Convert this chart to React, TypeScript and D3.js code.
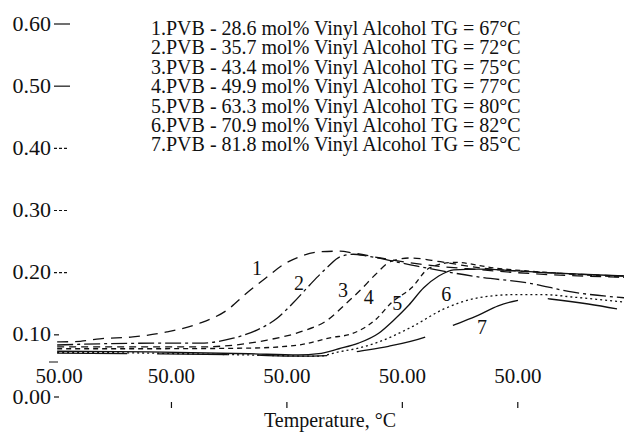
import React from "react";
import * as d3 from "d3";

const legendLines = [
  "1.PVB - 28.6 mol% Vinyl Alcohol TG = 67°C",
  "2.PVB - 35.7 mol% Vinyl Alcohol TG = 72°C",
  "3.PVB - 43.4 mol% Vinyl Alcohol TG = 75°C",
  "4.PVB - 49.9 mol% Vinyl Alcohol TG = 77°C",
  "5.PVB - 63.3 mol% Vinyl Alcohol TG = 80°C",
  "6.PVB - 70.9 mol% Vinyl Alcohol TG = 82°C",
  "7.PVB - 81.8 mol% Vinyl Alcohol TG = 85°C",
];

const yTicks = [0, 0.1, 0.2, 0.3, 0.4, 0.5, 0.6];
const yTickLabels = ["0.00", "0.10", "0.20", "0.30", "0.40", "0.50", "0.60"];
const xTicks = [20, 40, 60, 80, 100];
const xTickLabels = ["50.00", "50.00", "50.00", "50.00", "50.00"];

// curve 1
const t1 = [20.2, 24.2, 27.6, 33.3, 39.2, 44.9, 49.6, 53.1, 56.5, 59.3, 62.2, 65.7, 69.2, 71.5, 76.2, 83.1, 93.5, 103.9, 118.4];
const v1 = [0.087, 0.088, 0.092, 0.095, 0.103, 0.117, 0.138, 0.166, 0.191, 0.211, 0.224, 0.232, 0.233, 0.230, 0.222, 0.212, 0.203, 0.196, 0.191];
// curve 2
const t2 = [20.2, 27.6, 39.2, 45.0, 50.7, 54.8, 58.3, 61.1, 64.0, 67.0, 69.2, 71.5, 73.9, 81.4, 93.5, 101.6, 109.6, 118.4];
const v2 = [0.082, 0.084, 0.085, 0.085, 0.093, 0.106, 0.125, 0.150, 0.179, 0.207, 0.224, 0.228, 0.225, 0.211, 0.191, 0.182, 0.167, 0.158];
// curve 3
const t3 = [20.2, 27.6, 45.0, 56.6, 62.3, 67.0, 70.4, 72.7, 75.3, 77.9, 81.4, 86.6, 93.5, 103.9, 118.4];
const v3 = [0.079, 0.079, 0.079, 0.090, 0.103, 0.122, 0.150, 0.170, 0.195, 0.216, 0.222, 0.216, 0.206, 0.199, 0.193];
// curve 4
const t4 = [20.2, 36.1, 53.4, 62.0, 67.7, 71.2, 75.5, 78.1, 81.6, 84.7, 89.0, 95.9, 106.3, 118.4];
const v4 = [0.076, 0.076, 0.077, 0.082, 0.094, 0.100, 0.124, 0.150, 0.174, 0.206, 0.215, 0.206, 0.198, 0.191];
// curve 5
const t5 = [20.2, 36.1, 53.4, 62.0, 65.5, 69.0, 72.4, 75.9, 78.5, 81.1, 83.7, 86.3, 88.9, 93.2, 103.6, 118.4];
const v5 = [0.072, 0.071, 0.068, 0.066, 0.068, 0.076, 0.085, 0.101, 0.122, 0.146, 0.174, 0.193, 0.203, 0.204, 0.199, 0.193];
// curve 6
const t6 = [20.2, 36.1, 53.4, 65.5, 69.0, 72.4, 75.9, 81.6, 87.2, 93.2, 99.3, 104.5, 109.7, 118.4];
const v6 = [0.070, 0.069, 0.066, 0.064, 0.071, 0.077, 0.087, 0.111, 0.140, 0.158, 0.163, 0.163, 0.159, 0.151];
// curve 7
const t7 = [20.2, 36.1, 53.4, 62.0, 68.9, 71.9, 77.6, 84.0, 88.9, 93.2, 96.6, 100.1, 103.6, 105.6, 112.2, 118.4];
const v7 = [0.069, 0.068, 0.066, 0.064, 0.066, 0.071, 0.080, 0.095, 0.114, 0.130, 0.145, 0.154, 0.158, 0.156, 0.148, 0.138];

const curveT = [t1, t2, t3, t4, t5, t6, t7];
const curveV = [v1, v2, v3, v4, v5, v6, v7];
const curveDash = ["11,7", "16,4,3,4", "7,5", "5,4", "none", "2,3", "70,30"];

const labelNames = ["1", "2", "3", "4", "5", "6", "7"];
const labelT = [54.8, 62.1, 69.7, 74.2, 79.1, 87.6, 93.8];
const labelV = [0.206, 0.182, 0.170, 0.159, 0.150, 0.164, 0.111];

const W = 624;
const H = 432;
const FONT = '"Liberation Serif", Tinos, "Times New Roman", Times, "DejaVu Serif", serif';

export default function App() {
  const x = d3.scaleLinear().domain([20, 118.4]).range([56, 624]);
  const y = d3.scaleLinear().domain([0, 0.6]).range([396, 23]);
  const line = d3
    .line<[number, number]>()
    .x((d) => x(d[0]))
    .y((d) => y(d[1]))
    .curve(d3.curveMonotoneX);

  const ts = { fontFamily: FONT };

  return (
    <svg
      width={W}
      height={H}
      style={{ position: "fixed", left: 0, top: 0, background: "#fff", fontFamily: FONT }}
    >
      <rect width={W} height={H} fill="#fff" />
      {/* legend */}
      {legendLines.map((s, i) => (
        <text key={s} x={151} y={35 + i * 19.4} fontSize={20} fill="#111" style={ts}>
          {s}
        </text>
      ))}
      {/* y axis */}
      {yTicks.map((t, i) => {
        const yy = y(t);
        const style = t >= 0.5 ? "none" : t >= 0.2 ? "3,2" : "none";
        const len = t >= 0.5 ? 16 : t >= 0.2 ? 14 : 5;
        return (
          <g key={"y" + i}>
            <text x={51} y={yy + 7.5} fontSize={22} textAnchor="end" fill="#111" style={ts}>
              {yTickLabels[i]}
            </text>
            <line
              x1={54}
              x2={54 + len}
              y1={yy + 1}
              y2={yy + 1}
              stroke="#111"
              strokeWidth={1.2}
              strokeDasharray={style}
            />
          </g>
        );
      })}
      {/* x axis */}
      {xTicks.map((t, i) => (
        <g key={"x" + i}>
          <text
            x={x(t) + (i === 0 ? 3 : 0)}
            y={383}
            fontSize={21}
            textAnchor="middle"
            fill="#111"
            style={ts}
          >
            {xTickLabels[i]}
          </text>
          {i > 0 && (
            <line x1={x(t)} x2={x(t)} y1={402} y2={408} stroke="#111" strokeWidth={1.2} />
          )}
        </g>
      ))}
      <line x1={49} x2={58} y1={362} y2={362} stroke="#111" strokeWidth={1} />
      <text x={330} y={427} fontSize={20} textAnchor="middle" fill="#111" style={ts}>
        Temperature, °C
      </text>
      {/* curves */}
      {curveT.map((tt, ci) => {
        const pts = tt.map((t, j) => [t, curveV[ci][j]] as [number, number]);
        return (
          <path
            key={"c" + ci}
            d={line(pts) || ""}
            fill="none"
            stroke="#111"
            strokeWidth={1.3}
            strokeDasharray={curveDash[ci]}
          />
        );
      })}
      {labelNames.map((n, i) => (
        <text
          key={"l" + i}
          x={x(labelT[i])}
          y={y(labelV[i]) + 7}
          fontSize={20}
          textAnchor="middle"
          fill="#111"
          style={ts}
        >
          {n}
        </text>
      ))}
    </svg>
  );
}
